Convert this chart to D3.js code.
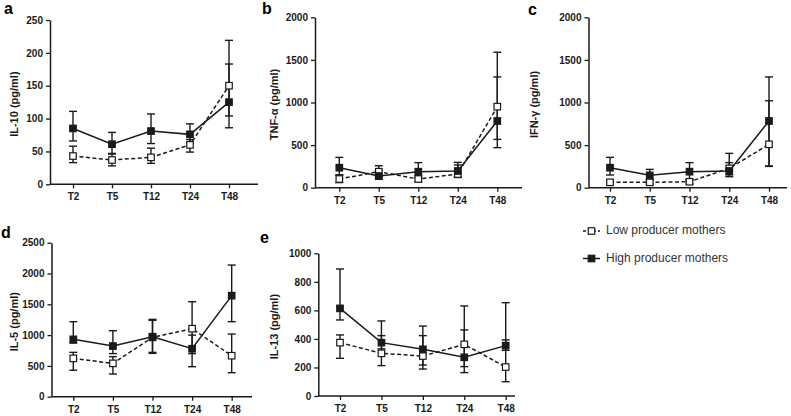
<!DOCTYPE html>
<html><head><meta charset="utf-8">
<script src="https://cdn.jsdelivr.net/npm/d3@7"></script>
<style>
body{margin:0;background:#fff;}
svg{display:block;font-family:"Liberation Sans",Arial,sans-serif;}
</style></head>
<body>
<svg id="chart" width="791" height="416"></svg>
<script>
const categories = ["T2","T5","T12","T24","T48"];
const seriesNames = ["Low producer mothers","High producer mothers"];

// IL-10
const il10Low   = [43, 37, 41, 60, 150];
const il10LowLo = [33, 28, 32, 49, 104];
const il10LowHi = [58, 47, 55, 68, 183];
const il10High   = [85, 61, 81, 76, 125];
const il10HighLo = [66, 46, 62, 62, 86];
const il10HighHi = [111, 79, 107, 92, 219];
const il10Ticks = [0, 50, 100, 150, 200, 250];

// TNF-alpha
const tnfLow   = [102, 188, 102, 160, 951];
const tnfLowLo = [60, 130, 70, 120, 567];
const tnfLowHi = [150, 258, 140, 297, 1300];
const tnfHigh   = [235, 137, 188, 196, 783];
const tnfHighLo = [150, 100, 120, 130, 470];
const tnfHighHi = [356, 200, 294, 266, 1590];
const tnfTicks = [0, 500, 1000, 1500, 2000];

// IFN-gamma
const ifnLow   = [63, 63, 70, 227, 509];
const ifnLowLo = [40, 40, 45, 150, 250];
const ifnLowHi = [85, 85, 95, 403, 1020];
const ifnHigh   = [235, 145, 188, 196, 783];
const ifnHighLo = [149, 102, 90, 129, 255];
const ifnHighHi = [356, 215, 294, 294, 1300];
const ifnTicks = [0, 500, 1000, 1500, 2000];

// IL-5
const il5Low   = [622, 541, 963, 1104, 665];
const il5LowLo = [430, 368, 720, 700, 390];
const il5LowHi = [720, 650, 1240, 1542, 1017];
const il5High   = [931, 822, 974, 779, 1640];
const il5HighLo = [870, 700, 703, 487, 1218];
const il5HighHi = [1218, 1071, 1255, 1000, 2137];
const il5Ticks = [0, 500, 1000, 1500, 2000, 2500];

// IL-13
const il13Low   = [374, 299, 280, 362, 203];
const il13LowLo = [264, 213, 189, 206, 100];
const il13LowHi = [428, 423, 423, 631, 393];
const il13High   = [614, 374, 327, 271, 353];
const il13HighLo = [533, 330, 217, 164, 320];
const il13HighHi = [890, 526, 490, 463, 654];
const il13Ticks = [0, 200, 400, 600, 800, 1000];

const panels = [
  {letter:"a", title:"IL-10 (pg/ml)", ticks:il10Ticks, low:il10Low, lowLo:il10LowLo, lowHi:il10LowHi, high:il10High, highLo:il10HighLo, highHi:il10HighHi,
   ax:50, x1:73, x2:229, xe:258, yt:20, yb:184.3, lx:4, ly:14, tx:15},
  {letter:"b", title:"TNF-\u03b1 (pg/ml)", ticks:tnfTicks, low:tnfLow, lowLo:tnfLowLo, lowHi:tnfLowHi, high:tnfHigh, highLo:tnfHighLo, highHi:tnfHighHi,
   ax:315, x1:339.3, x2:497.3, xe:522, yt:17.3, yb:187.7, lx:262, ly:14, tx:275},
  {letter:"c", title:"IFN-\u03b3 (pg/ml)", ticks:ifnTicks, low:ifnLow, lowLo:ifnLowLo, lowHi:ifnLowHi, high:ifnHigh, highLo:ifnHighLo, highHi:ifnHighHi,
   ax:588.5, x1:610, x2:769, xe:787, yt:17.3, yb:187.7, lx:528, ly:15, tx:535},
  {letter:"d", title:"IL-5 (pg/ml)", ticks:il5Ticks, low:il5Low, lowLo:il5LowLo, lowHi:il5LowHi, high:il5High, highLo:il5HighLo, highHi:il5HighHi,
   ax:51.5, x1:73.3, x2:231.7, xe:252, yt:242.7, yb:396.7, lx:1, ly:238, tx:15},
  {letter:"e", title:"IL-13 (pg/ml)", ticks:il13Ticks, low:il13Low, lowLo:il13LowLo, lowHi:il13LowHi, high:il13High, highLo:il13HighLo, highHi:il13HighHi,
   ax:318.3, x1:340, x2:505.7, xe:515, yt:253.3, yb:396, lx:260, ly:243, tx:275}
];

const svg = d3.select("#chart");
const ink = "#1a1a1a";
const sq = 6.5;

panels.forEach(p => {
  const g = svg.append("g");
  const x = d3.scalePoint().domain(categories).range([p.x1, p.x2]);
  const y = d3.scaleLinear().domain([0, d3.max(p.ticks)]).range([p.yb, p.yt]);

  // y axis
  const ya = d3.axisLeft(y).tickValues(p.ticks).tickFormat(d3.format("d")).tickSize(4).tickSizeOuter(0).tickPadding(3);
  const yg = g.append("g").attr("transform", `translate(${p.ax},0)`).call(ya);
  yg.select(".domain").attr("stroke", ink).attr("stroke-width", 1.5);
  yg.selectAll(".tick line").attr("stroke", ink).attr("stroke-width", 1.3);
  yg.selectAll(".tick text").attr("fill", ink).attr("font-size", 10).attr("font-weight", "bold")
    .attr("font-family", '"Liberation Sans",Arial,sans-serif');

  // x axis
  const xa = d3.axisBottom(x).tickSize(4).tickSizeOuter(0).tickPadding(5);
  const xg = g.append("g").attr("transform", `translate(0,${p.yb})`).call(xa);
  xg.select(".domain").remove();
  xg.append("line").attr("x1", p.ax).attr("x2", p.xe).attr("stroke", ink).attr("stroke-width", 1.5);
  xg.selectAll(".tick line").attr("stroke", ink).attr("stroke-width", 1.3);
  xg.selectAll(".tick text").attr("fill", ink).attr("font-size", 10).attr("font-weight", "bold")
    .attr("font-family", '"Liberation Sans",Arial,sans-serif');

  // titles
  g.append("text").attr("transform", `translate(${p.tx},${(p.yt + p.yb) / 2 + 2}) rotate(-90)`)
    .attr("text-anchor", "middle").attr("dominant-baseline", "middle")
    .attr("font-size", 11).attr("font-weight", "bold").attr("fill", ink).text(p.title);
  g.append("text").attr("x", p.lx).attr("y", p.ly).attr("font-size", 16).attr("font-weight", "bold")
    .attr("fill", "#000").text(p.letter);

  const series = [
    {v:p.low, lo:p.lowLo, hi:p.lowHi, dash:"4,2.5", fill:"#fff"},
    {v:p.high, lo:p.highLo, hi:p.highHi, dash:null, fill:ink}
  ];

  // error bars
  series.forEach(s => {
    categories.forEach((c, i) => {
      const cx = x(c);
      g.append("line").attr("x1", cx).attr("x2", cx).attr("y1", y(s.lo[i])).attr("y2", y(s.hi[i]))
        .attr("stroke", ink).attr("stroke-width", 1.4);
      [s.lo[i], s.hi[i]].forEach(vv => {
        g.append("line").attr("x1", cx - 4).attr("x2", cx + 4).attr("y1", y(vv)).attr("y2", y(vv))
          .attr("stroke", ink).attr("stroke-width", 1.4);
      });
    });
  });

  // lines
  const line = d3.line().x((d, i) => x(categories[i])).y(d => y(d));
  series.forEach(s => {
    g.append("path").datum(s.v).attr("d", line).attr("fill", "none").attr("stroke", ink)
      .attr("stroke-width", 1.5).attr("stroke-dasharray", s.dash);
  });

  // markers
  series.forEach(s => {
    g.selectAll(null).data(s.v).enter().append("rect")
      .attr("x", (d, i) => x(categories[i]) - sq / 2).attr("y", d => y(d) - sq / 2)
      .attr("width", sq).attr("height", sq).attr("fill", s.fill).attr("stroke", ink).attr("stroke-width", 1.2);
  });
});

// legend
const leg = svg.append("g");
seriesNames.forEach((name, i) => {
  const ly = [231, 258.5][i];
  leg.append("line").attr("x1", 583).attr("x2", 600).attr("y1", ly).attr("y2", ly)
    .attr("stroke", ink).attr("stroke-width", 1.5).attr("stroke-dasharray", i === 0 ? "3,2" : null);
  leg.append("rect").attr("x", 591.5 - 3.25).attr("y", ly - 3.25).attr("width", 6.5).attr("height", 6.5)
    .attr("fill", i === 0 ? "#fff" : ink).attr("stroke", ink).attr("stroke-width", 1.2);
  leg.append("text").attr("x", 606).attr("y", ly).attr("dominant-baseline", "middle")
    .attr("font-size", 12).attr("fill", "#333").text(name);
});
</script>
</body></html>
